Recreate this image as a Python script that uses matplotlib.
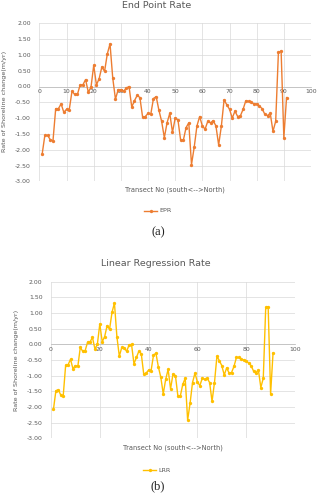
import matplotlib
matplotlib.use("Agg")
import matplotlib.pyplot as plt
import numpy as np

transects = list(range(1, 92))

epr = [-2.15, -1.55, -1.55, -1.68, -1.72, -0.70, -0.70, -0.55, -0.82, -0.72,
       -0.73, -0.15, -0.25, -0.25, 0.05, 0.05, 0.22, -0.18, -0.02, 0.67,
       0.05, 0.25, 0.62, 0.48, 1.03, 1.35, 0.27, -0.40, -0.10, -0.10,
       -0.15, -0.05, 0.00, -0.65, -0.45, -0.28, -0.35, -0.97, -0.95, -0.85,
       -0.88, -0.38, -0.32, -0.75, -1.10, -1.62, -1.15, -0.85, -1.45, -1.00,
       -1.05, -1.70, -1.70, -1.30, -1.15, -2.47, -1.92, -1.25, -0.95, -1.25,
       -1.35, -1.10, -1.15, -1.08, -1.25, -1.85, -1.25, -0.42, -0.58, -0.72,
       -1.00, -0.78, -0.95, -0.93, -0.72, -0.45, -0.47, -0.50, -0.55, -0.55,
       -0.62, -0.70, -0.88, -0.92, -0.85, -1.42, -1.10, 1.08, 1.12, -1.62,
       -0.35]

lrr = [-2.08, -1.48, -1.45, -1.62, -1.65, -0.67, -0.65, -0.48, -0.78, -0.68,
       -0.70, -0.10, -0.22, -0.20, 0.07, 0.08, 0.22, -0.15, 0.00, 0.65,
       0.08, 0.25, 0.60, 0.48, 1.02, 1.32, 0.25, -0.38, -0.10, -0.12,
       -0.22, -0.02, 0.00, -0.62, -0.42, -0.22, -0.30, -0.95, -0.92, -0.82,
       -0.85, -0.35, -0.28, -0.72, -1.05, -1.58, -1.12, -0.80, -1.42, -0.95,
       -1.00, -1.65, -1.65, -1.28, -1.08, -2.42, -1.88, -1.22, -0.92, -1.20,
       -1.32, -1.08, -1.12, -1.08, -1.22, -1.82, -1.22, -0.38, -0.52, -0.68,
       -0.98, -0.75, -0.92, -0.90, -0.70, -0.42, -0.42, -0.48, -0.50, -0.52,
       -0.60, -0.68, -0.85, -0.90, -0.82, -1.38, -1.08, 1.18, 1.20, -1.58,
       -0.28]

yticks = [2.0, 1.5, 1.0, 0.5, 0.0, -0.5, -1.0, -1.5, -2.0, -2.5, -3.0]
xticks = [0, 10, 20, 30, 40, 50, 60, 70, 80, 90, 100]
xticks_b = [0, 20, 40, 60, 80, 100]

W, H = 317, 493
fig = plt.figure(figsize=(W / 100, H / 100), dpi=100)
fig.patch.set_facecolor("white")

TXT = "#595959"
GRID = "#D9D9D9"


def fx(px):
    return px / W


def fy(py):
    return 1 - py / H


def make_panel(rect, xt, data, color, title, tpos, ylpos, xlpos, legpos, cap, cappos, name):
    ax = fig.add_axes(rect)
    ax.plot(transects, data, color=color, lw=1.0, marker="o", ms=2.4,
            markeredgewidth=0, zorder=3)
    ax.set_xlim(0, 100)
    ax.set_ylim(-3, 2)
    ax.set_yticks(yticks)
    ax.set_yticklabels([f"{v:.2f}" for v in yticks])
    ax.set_xticks(xt)
    ax.set_xticklabels([str(v) for v in xt])
    ax.grid(True, color=GRID, lw=0.5, zorder=0)
    for s in ["top", "right", "left"]:
        ax.spines[s].set_visible(False)
    ax.spines["bottom"].set_position(("data", 0))
    ax.spines["bottom"].set_color("#BFBFBF")
    ax.spines["bottom"].set_linewidth(0.6)
    ax.tick_params(axis="both", length=0, labelsize=4.4, labelcolor=TXT)
    ax.tick_params(axis="x", pad=2)
    ax.tick_params(axis="y", pad=6)
    fig.text(fx(tpos[0]), fy(tpos[1]), title, ha="center", va="center",
             fontsize=6.8, color=TXT)
    fig.text(fx(ylpos[0]), fy(ylpos[1]), "Rate of Shoreline change(m/yr)",
             rotation=90, ha="center", va="center", fontsize=4.6, color=TXT)
    fig.text(fx(xlpos[0]), fy(xlpos[1]), "Transect No (south<-->North)",
             ha="center", va="center", fontsize=4.8, color=TXT)
    lx0, lx1, ly = legpos
    fig.add_artist(plt.Line2D([fx(lx0), fx(lx1)], [fy(ly), fy(ly)], color=color,
                              lw=1.0, marker=None))
    fig.add_artist(plt.Line2D([fx((lx0 + lx1) / 2)], [fy(ly)], color=color,
                              marker="o", ms=2.4, markeredgewidth=0))
    fig.text(fx(lx1 + 2), fy(ly), name, ha="left", va="center",
             fontsize=4.6, color=TXT)
    fig.text(fx(cappos[0]), fy(cappos[1]), cap, ha="center", va="center",
             fontsize=9, family="Liberation Serif", color="#222222")
    return ax


make_panel([fx(39.4), fy(181.3), (311 - 39.4) / W, (181.3 - 23.3) / H], xticks,
           epr, "#ED7D31", "End Point Rate", (157, 6), (5, 101), (175, 190),
           (144, 157, 211), "(a)", (158, 232), "EPR")

make_panel([fx(51), fy(438.3), (295 - 51) / W, (438.3 - 281.7) / H], xticks_b,
           lrr, "#FFC000", "Linear Regression Rate", (156, 263), (17, 360),
           (173, 448), (143, 156, 470), "(b)", (158, 486), "LRR")

fig.savefig("out.png", dpi=100, facecolor="white")
